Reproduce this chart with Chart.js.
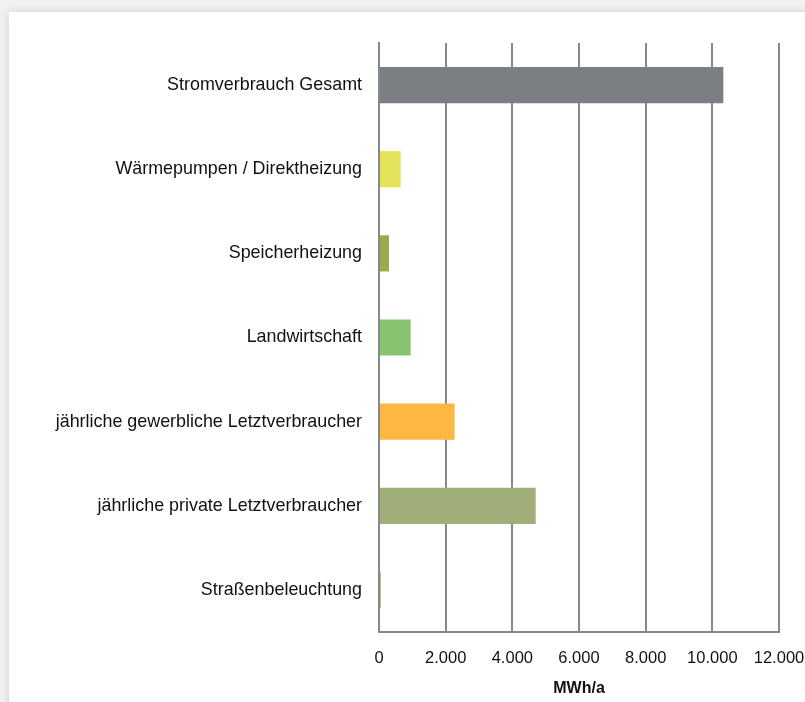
<!DOCTYPE html>
<html>
<head>
<meta charset="utf-8">
<script src="https://cdn.jsdelivr.net/npm/chart.js@4"></script>
<style>
    html, body { margin: 0; padding: 0; width: 805px; height: 702px; overflow: hidden; background: #f1f1f1; }
    .card { position: absolute; left: 9px; top: 12px; width: 900px; height: 800px; background: #fff; box-shadow: 0 0 9px rgba(0,0,0,0.13); }
    #chart { position: absolute; left: 0; top: 0; }
</style>
</head>
<body>
<div class="card"></div>
<canvas id="chart" width="840" height="702"></canvas>
<script>
const categories = [
    'Stromverbrauch Gesamt',
    'Wärmepumpen / Direktheizung',
    'Speicherheizung',
    'Landwirtschaft',
    'jährliche gewerbliche Letztverbraucher',
    'jährliche private Letztverbraucher',
    'Straßenbeleuchtung'
];
const values = [10330, 650, 300, 950, 2270, 4700, 50];
const barColors = ['#7b7e83', '#e3e35a', '#9caa4a', '#88c46e', '#ffb744', '#a0ae79', '#9caa4a'];
const xTicks = [0, 2000, 4000, 6000, 8000, 10000, 12000];
const axisTitle = 'MWh/a';

function formatDe(v) {
    return String(v).replace(/\B(?=(\d{3})+(?!\d))/g, '.');
}

document.addEventListener('DOMContentLoaded', function() {
    const ctx = document.getElementById('chart').getContext('2d');
    new Chart(ctx, {
        type: 'bar',
        data: {
            labels: categories,
            datasets: [{
                data: values,
                backgroundColor: barColors,
                barPercentage: 0.43,
                categoryPercentage: 1
            }]
        },
        options: {
            indexAxis: 'y',
            responsive: false,
            animation: false,
            layout: { padding: { top: 43, right: 61, left: 0, bottom: 0 } },
            plugins: {
                legend: { display: false },
                tooltip: { enabled: false }
            },
            scales: {
                x: {
                    min: xTicks[0],
                    max: xTicks[xTicks.length - 1],
                    afterBuildTicks: function(scale) {
                        scale.ticks = xTicks.map(v => ({ value: v }));
                    },
                    afterFit: function(scale) { scale.height = 70; },
                    grid: { color: '#85888d', lineWidth: 2, drawTicks: false },
                    border: { color: '#85888d', width: 2 },
                    ticks: {
                        padding: 17,
                        color: '#111',
                        font: { family: 'Arial, "Liberation Sans"', size: 16.5 },
                        callback: function(v) { return formatDe(v); }
                    },
                    title: {
                        display: true,
                        text: axisTitle,
                        color: '#111',
                        padding: { top: 0 },
                        font: { family: 'Arial, "Liberation Sans"', size: 16, weight: 'bold' }
                    }
                },
                y: {
                    afterFit: function(scale) { scale.width = 379; },
                    grid: { display: false, drawTicks: false },
                    border: { color: '#85888d', width: 2 },
                    ticks: {
                        padding: 17,
                        color: '#111',
                        font: { family: 'Arial, "Liberation Sans"', size: 17.9 }
                    }
                }
            }
        }
    });
});
</script>
</body>
</html>
